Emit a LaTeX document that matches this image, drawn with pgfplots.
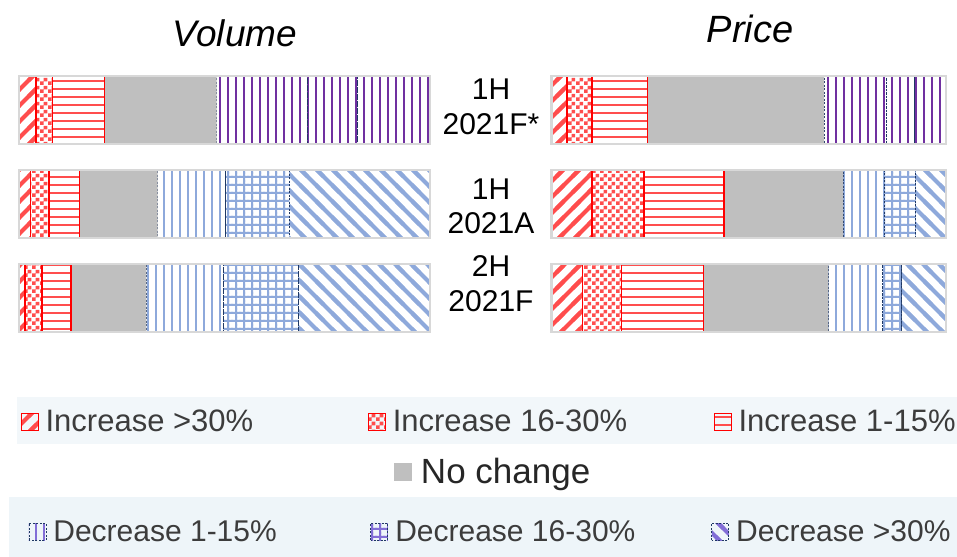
\documentclass[border=0pt]{standalone}
\usepackage{fontspec}
\setmainfont{Liberation Sans}
\usepackage{pgfplots}
\pgfplotsset{compat=1.18}
\usepackage{pgfplotstable}
\usetikzlibrary{patterns}

\definecolor{incRed}{RGB}{255,77,77}
\definecolor{edgeRed}{RGB}{255,0,0}
\definecolor{decBlue}{RGB}{142,169,219}
\definecolor{decPurple}{RGB}{112,48,160}
\definecolor{edgeNavy}{RGB}{31,56,100}
\definecolor{flatGray}{RGB}{191,191,191}
\definecolor{frameGray}{RGB}{216,216,216}
\definecolor{bandA}{RGB}{242,247,250}
\definecolor{bandB}{RGB}{238,245,249}
\definecolor{legText}{RGB}{60,60,60}
\definecolor{keyLilac}{RGB}{130,110,215}

% hatch fills, sizes in big points; tiles overlap their neighbours slightly
\pgfdeclarepatternformonly{incdiag}{\pgfqpoint{-5bp}{-5bp}}{\pgfqpoint{21bp}{21bp}}{\pgfqpoint{16bp}{16bp}}{%
  \pgfsetdash{}{0pt}\pgfsetlinewidth{4.2bp}%
  \pgfpathmoveto{\pgfqpoint{-5bp}{-5bp}}\pgfpathlineto{\pgfqpoint{21bp}{21bp}}\pgfusepath{stroke}}
\pgfdeclarepatternformonly{decdiag}{\pgfqpoint{-5bp}{-5bp}}{\pgfqpoint{21bp}{21bp}}{\pgfqpoint{16bp}{16bp}}{%
  \pgfsetdash{}{0pt}\pgfsetlinewidth{4.2bp}%
  \pgfpathmoveto{\pgfqpoint{-5bp}{21bp}}\pgfpathlineto{\pgfqpoint{21bp}{-5bp}}\pgfusepath{stroke}}
\pgfdeclarepatternformonly{checker}{\pgfqpoint{0bp}{0bp}}{\pgfqpoint{8bp}{8bp}}{\pgfqpoint{8bp}{8bp}}{%
  \pgfpathrectangle{\pgfqpoint{0bp}{0bp}}{\pgfqpoint{4bp}{4bp}}%
  \pgfpathrectangle{\pgfqpoint{4bp}{4bp}}{\pgfqpoint{4bp}{4bp}}\pgfusepath{fill}}
\pgfdeclarepatternformonly{hstripes}{\pgfqpoint{-1bp}{0bp}}{\pgfqpoint{9bp}{8bp}}{\pgfqpoint{8bp}{8bp}}{%
  \pgfpathrectangle{\pgfqpoint{-1bp}{3bp}}{\pgfqpoint{10bp}{2bp}}\pgfusepath{fill}}
\pgfdeclarepatternformonly{vstripes}{\pgfqpoint{0bp}{-1bp}}{\pgfqpoint{8bp}{9bp}}{\pgfqpoint{8bp}{8bp}}{%
  \pgfpathrectangle{\pgfqpoint{3bp}{-1bp}}{\pgfqpoint{2bp}{10bp}}\pgfusepath{fill}}
\pgfdeclarepatternformonly{gridlines}{\pgfqpoint{-1bp}{-1bp}}{\pgfqpoint{9bp}{9bp}}{\pgfqpoint{8bp}{8bp}}{%
  \pgfpathrectangle{\pgfqpoint{-1bp}{3bp}}{\pgfqpoint{10bp}{2bp}}%
  \pgfpathrectangle{\pgfqpoint{3bp}{-1bp}}{\pgfqpoint{2bp}{10bp}}\pgfusepath{fill}}

% shares of respondents (%), one row per period;
% the p columns hold the first period, whose decreases are drawn in purple
\pgfplotstableread{
row a   b   c    n    d1   d1p  d2   d2p  d3   d3p
1   4.1 4.1 12.6 27.3 0    22.0 0    12.3 0    17.6
2   2.8 4.5 7.4  19.0 16.6 0    15.5 0    34.2 0
3   1.4 4.2 7.1  18.3 18.8 0    18.1 0    32.1 0
}\volumedata
\pgfplotstableread{
row a    b    c    n    d1   d1p  d2   d2p  d3   d3p
1   3.9  6.4  14.0 44.8 0    15.9 0    7.0  0    8.0
2   10.3 13.1 20.3 30.2 10.6 0    7.8  0    7.7  0
3   7.8  9.9  20.8 31.7 13.7 0    4.8  0    11.3 0
}\pricedata
\pgfplotstableread{
row total
1   100
2   100
3   100
}\totals

\pgfplotsset{
  rowgeom/.style={scale only axis, height=282bp, ymin=0.5, ymax=3.5, y dir=reverse,
    xmin=0, xmax=100, hide axis, clip=false, bar width=68.5bp, anchor=north west},
  volgeom/.style={rowgeom, width=411bp, at={(19bp,494bp)}},
  pricegeom/.style={rowgeom, width=394.5bp, at={(551.5bp,494bp)}},
  incseg/.style={draw=edgeRed, line width=1.5bp, pattern color=incRed},
  decseg/.style={draw=edgeNavy, line width=0.9bp, dash pattern=on 2bp off 1.5bp},
  s inc30/.style={incseg, pattern=incdiag},
  s inc16/.style={incseg, pattern=checker},
  s inc1/.style={incseg, pattern=hstripes},
  s flat/.style={fill=flatGray, draw=none},
  s dec1/.style={decseg, pattern=vstripes, pattern color=decBlue},
  s dec16/.style={decseg, pattern=gridlines, pattern color=decBlue},
  s dec30/.style={decseg, pattern=decdiag, pattern color=decBlue},
  s decp/.style={decseg, pattern=vstripes, pattern color=decPurple},
  frame bar/.style={fill=none, draw=frameGray, line width=2.4bp},
  sq legend/.style={legend image code/.code={\draw[##1] (0bp,-8.5bp) rectangle (17bp,8.5bp);}},
  legaxis/.style={hide axis, scale only axis, width=957bp, height=557bp,
    at={(0bp,0bp)}, anchor=south west, xmin=0, xmax=1, ymin=0, ymax=1, sq legend,
    legend style={draw=none, fill=none, anchor=west, inner sep=0pt, column sep=0pt,
      nodes={inner sep=0pt, text=legText},
      font=\fontsize{31bp}{36bp}\selectfont}},
}

\newcommand{\stackrows}[1]{%
  \addplot[s inc30] table[x=a, y=row] {#1};
  \addplot[s inc16] table[x=b, y=row] {#1};
  \addplot[s inc1]  table[x=c, y=row] {#1};
  \addplot[s flat]  table[x=n, y=row] {#1};
  \addplot[s dec1]  table[x=d1, y=row] {#1};
  \addplot[s decp]  table[x=d1p, y=row] {#1};
  \addplot[s dec16] table[x=d2, y=row] {#1};
  \addplot[s decp]  table[x=d2p, y=row] {#1};
  \addplot[s dec30] table[x=d3, y=row] {#1};
  \addplot[s decp]  table[x=d3p, y=row] {#1};
}

\begin{document}
\begin{tikzpicture}
\useasboundingbox (0,0) rectangle (957bp,557bp);

% legend bands
\fill[bandA] (16.7bp,112.7bp) rectangle (957bp,160bp);
\fill[bandB] (9bp,0bp) rectangle (957bp,60.3bp);

% Volume
\begin{axis}[volgeom, xbar stacked]
  \stackrows{\volumedata}
\end{axis}
\begin{axis}[volgeom, xbar]
  \addplot[frame bar] table[x=total, y=row] {\totals};
\end{axis}

% Price
\begin{axis}[pricegeom, xbar stacked]
  \stackrows{\pricedata}
\end{axis}
\begin{axis}[pricegeom, xbar]
  \addplot[frame bar] table[x=total, y=row] {\totals};
\end{axis}

\node[font=\fontsize{37bp}{40bp}\selectfont\itshape] at (235bp,524bp) {Volume};
\node[font=\fontsize{38bp}{40bp}\selectfont\itshape] at (750bp,528bp) {Price};

\node[align=center, font=\fontsize{30bp}{34.5bp}\selectfont] at (491bp,450bp) {1H\\2021F*};
\node[align=center, font=\fontsize{30bp}{34.5bp}\selectfont] at (491bp,350.5bp) {1H\\2021A};
\node[align=center, font=\fontsize{30bp}{34.5bp}\selectfont] at (491bp,273.5bp) {2H\\2021F};

% legend, increases
\begin{axis}[legaxis, legend columns=3,
  legend style={at={(0.02163,0.2429)}, /tikz/every odd column/.append style={column sep=6.5bp}}]
  \addlegendimage{s inc30, line width=1.2bp}
  \addlegendentry{\makebox[322.5bp][l]{Increase >30\%}}
  \addlegendimage{s inc16, line width=1.2bp}
  \addlegendentry{\makebox[321bp][l]{Increase 16-30\%}}
  \addlegendimage{s inc1, line width=1.2bp}
  \addlegendentry{Increase 1-15\%}
\end{axis}
% legend, no change
\begin{axis}[legaxis, legend columns=1,
  legend style={at={(0.4120,0.1526)}, font=\fontsize{35bp}{40bp}\selectfont,
    nodes={text=black!85}, /tikz/every odd column/.append style={column sep=9bp}}]
  \addlegendimage{fill=flatGray, draw=flatGray, line width=0.5bp}
  \addlegendentry{No change}
\end{axis}
% legend, decreases
\begin{axis}[legaxis, legend columns=3,
  legend style={at={(0.02957,0.0449)}, font=\fontsize{30bp}{35bp}\selectfont,
    /tikz/every odd column/.append style={column sep=7bp}}]
  \addlegendimage{decseg, pattern=vstripes, pattern color=keyLilac}
  \addlegendentry{\makebox[317bp][l]{Decrease 1-15\%}}
  \addlegendimage{decseg, pattern=gridlines, pattern color=keyLilac}
  \addlegendentry{\makebox[316bp][l]{Decrease 16-30\%}}
  \addlegendimage{decseg, pattern=decdiag, pattern color=keyLilac}
  \addlegendentry{Decrease >30\%}
\end{axis}
\end{tikzpicture}
\end{document}
